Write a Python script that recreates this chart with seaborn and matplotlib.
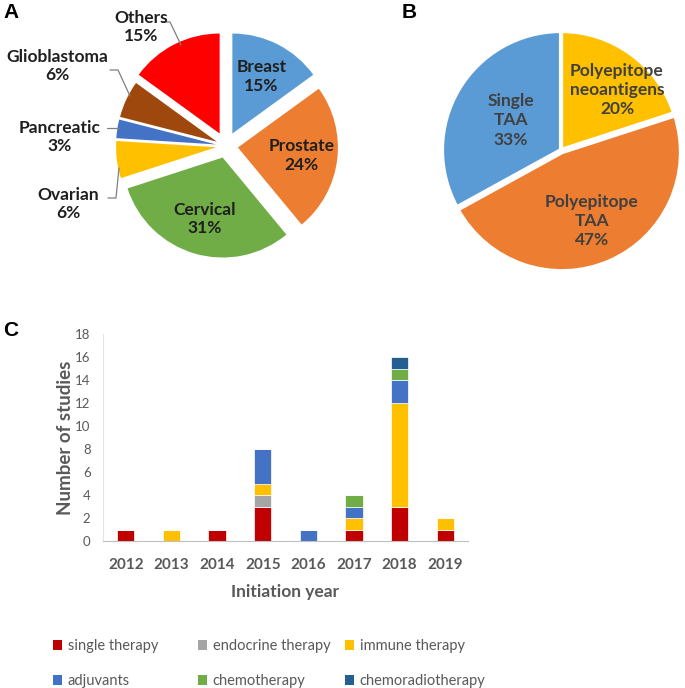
import numpy as np
import pandas as pd
import matplotlib
matplotlib.use("Agg")
import matplotlib.pyplot as plt
import seaborn as sns
from matplotlib.patches import Patch

# ---------------- data ----------------
cancer_labels = ["Breast", "Prostate", "Cervical", "Ovarian", "Pancreatic", "Glioblastoma", "Others"]
cancer_pct = [15, 24, 31, 6, 3, 6, 15]
cancer_colors = ["#5B9BD5", "#ED7D31", "#70AD47", "#FFC000", "#4472C4", "#9E480E", "#FF0000"]

antigen_labels = ["Polyepitope\nneoantigens", "Polyepitope\nTAA", "Single\nTAA"]
antigen_pct = [20, 47, 33]
antigen_colors = ["#FFC000", "#ED7D31", "#5B9BD5"]

years = [2012, 2013, 2014, 2015, 2016, 2017, 2018, 2019]
therapies = ["single therapy", "endocrine therapy", "immune therapy",
             "adjuvants", "chemotherapy", "chemoradiotherapy"]
single_therapy = [1, 0, 1, 3, 0, 1, 3, 1]
endocrine_therapy = [0, 0, 0, 1, 0, 0, 0, 0]
immune_therapy = [0, 1, 0, 1, 0, 1, 9, 1]
adjuvants = [0, 0, 0, 3, 1, 1, 2, 0]
chemotherapy = [0, 0, 0, 0, 0, 1, 1, 0]
chemoradiotherapy = [0, 0, 0, 0, 0, 0, 1, 0]
therapy_colors = ["#C00000", "#A5A5A5", "#FFC000", "#4472C4", "#70AD47", "#255E91"]

series = [single_therapy, endocrine_therapy, immune_therapy,
          adjuvants, chemotherapy, chemoradiotherapy]
df = pd.DataFrame([(y, t, v) for t, vals in zip(therapies, series) for y, v in zip(years, vals)],
                  columns=["year", "therapy", "count"])

# ---------------- figure ----------------
sns.set_theme(style="white")
plt.rcParams["font.family"] = ["Lato", "DejaVu Sans"]

W, H = 685, 688
fig = plt.figure(figsize=(W / 100, H / 100), dpi=100)

# overlay axes in pixel coordinates for the pies
ov = fig.add_axes([0, 0, 1, 1])
def P(x, y):
    return (x, H - y)

# ---- Pie A ----
cA = P(226, 146)
rA = 100
explA = [0.14, 0.12, 0.12, 0.10, 0.10, 0.10, 0.14]
wedgesA, _ = ov.pie(cancer_pct, colors=cancer_colors, startangle=90, counterclock=False,
                    center=cA, radius=rA, explode=[e * rA for e in explA],
                    wedgeprops=dict(linewidth=0))
inside = {"Breast", "Prostate", "Cervical"}
outside_pos = {"Others": (141, 27), "Glioblastoma": (57, 66),
               "Pancreatic": (60, 137), "Ovarian": (68, 204)}
leaders = {"Others": [(162, 22), (170, 22), (181, 45)],
           "Glioblastoma": [(110, 70), (118, 70), (130, 96)],
           "Pancreatic": [(107, 128), (119, 128)],
           "Ovarian": [(108, 198), (116, 198), (119, 168)]}
for w, lab, pct, ex in zip(wedgesA, cancer_labels, cancer_pct, explA):
    txt = f"{lab}\n{pct}%"
    if lab in inside:
        ang = np.deg2rad((w.theta1 + w.theta2) / 2)
        d = 0.64 * rA + ex * rA
        ov.text(cA[0] + d * np.cos(ang), cA[1] + d * np.sin(ang), txt,
                ha="center", va="center", fontsize=12.5, fontweight="bold",
                color="#1F1F1F", linespacing=1.2)
    else:
        x, y = outside_pos[lab]
        ov.text(*P(x, y), txt, ha="center", va="center", fontsize=12.5,
                fontweight="bold", color="#1F1F1F", linespacing=1.2)
        pts = [P(*p) for p in leaders[lab]]
        ov.plot([p[0] for p in pts], [p[1] for p in pts], color="#7F7F7F", lw=0.9)

# ---- Pie B ----
cB = P(561, 150)
rB = 119
explB = [0.0, 0.02, 0.0]
wedgesB, _ = ov.pie(antigen_pct, colors=antigen_colors, startangle=90, counterclock=False,
                    center=cB, radius=rB, explode=[e * rB for e in explB],
                    wedgeprops=dict(linewidth=3, edgecolor="white"))
b_dist = [0.69, 0.65, 0.49]
b_turn = [-7, 0, 0]
for w, lab, pct, dd, tt in zip(wedgesB, antigen_labels, antigen_pct, b_dist, b_turn):
    ang = np.deg2rad((w.theta1 + w.theta2) / 2 + tt)
    d = dd * rB
    ov.text(cB[0] + d * np.cos(ang), cB[1] + d * np.sin(ang), f"{lab}\n{pct}%",
            ha="center", va="center", fontsize=12.5, color="#404040",
            fontweight="bold", linespacing=1.25)

ov.set_xlim(0, W)
ov.set_ylim(0, H)
ov.set_aspect("auto")
ov.axis("off")

# panel letters
for letter, (x, y) in {"A": (3, 13), "B": (402, 13), "C": (3, 331)}.items():
    ov.text(*P(x, y), letter, fontsize=15, fontweight="bold", color="black",
            family=["Liberation Sans", "DejaVu Sans"], va="center", ha="left")

# ---- Bar chart C ----
ax = fig.add_axes([103 / W, 1 - 541 / H, 365 / W, (541 - 334) / H])
sns.histplot(data=df, x="year", weights="count", hue="therapy",
             hue_order=therapies[::-1], palette=therapy_colors[::-1],
             multiple="stack", discrete=True, shrink=0.38, alpha=1,
             edgecolor="white", linewidth=0.5, legend=False, ax=ax)
ax.set_xlim(years[0] - 0.5, years[-1] + 0.5)
ax.set_ylim(0, 18)
ax.set_yticks(range(0, 19, 2))
ax.set_xticks(years)
ax.tick_params(axis="y", labelsize=9.5, colors="#595959", length=0, pad=9)
ax.tick_params(axis="x", labelsize=11, colors="#595959", length=0, pad=12)
for t in ax.get_xticklabels():
    t.set_fontweight("bold")
ax.set_xlabel("Initiation year", fontsize=12.5, fontweight="bold", color="#595959", labelpad=9)
ax.set_ylabel("Number of studies", fontsize=13.5, fontweight="bold", color="#595959", labelpad=1)
for s in ["top", "right"]:
    ax.spines[s].set_visible(False)
ax.spines["left"].set_color("#E3E3E3")
ax.spines["bottom"].set_color("#BFBFBF")
ax.spines["left"].set_linewidth(0.8)
ax.spines["bottom"].set_linewidth(0.8)
ax.grid(False)

# legend: three columns of two entries
col_x = [53, 198, 345]
for c in range(3):
    idx = [c, c + 3]
    handles = [Patch(facecolor=therapy_colors[i], edgecolor="none", label=therapies[i]) for i in idx]
    leg = fig.legend(handles=handles, loc="upper left",
                     bbox_to_anchor=(col_x[c] / W, 1 - 639 / H),
                     frameon=False, fontsize=10.5, handlelength=0.65, handleheight=0.65,
                     handletextpad=0.35, labelspacing=1.45, borderaxespad=0, borderpad=0)
    for t in leg.get_texts():
        t.set_color("#595959")

fig.savefig("out.png", dpi=100)
